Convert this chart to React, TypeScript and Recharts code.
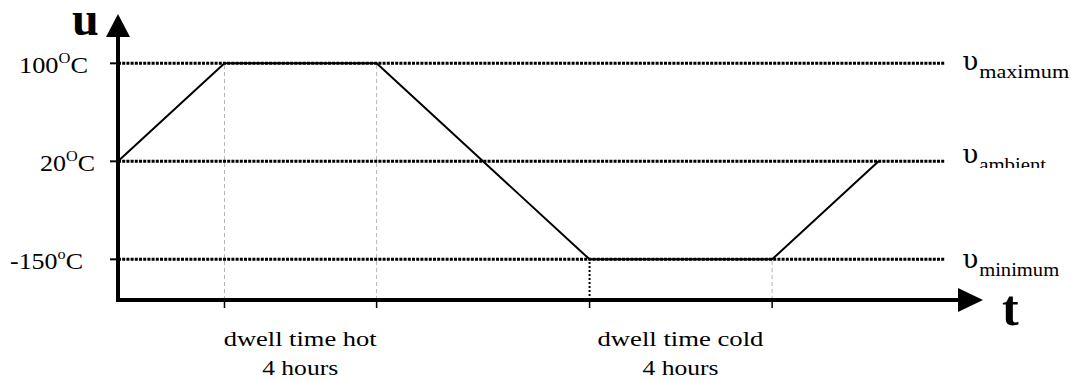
import { LineChart, Line, XAxis, YAxis, ReferenceLine, ReferenceDot } from 'recharts';

// schematic temperature cycle (time axis is not to scale in the original)
const timeHours = [0, 2.8, 6.8, 12.4, 17.2, 20.0];
const temperatures = [20, 100, 100, -150, -150, 20];

// the temperature axis only has three evenly spaced levels
const tempLevels = [-150, 20, 100];
const levelUnits = ['o', 'O', 'O'];
const levelNames = ['minimum', 'ambient', 'maximum'];

// corners of the two dwell phases
const dwellTicks = [2.8, 6.8, 12.4, 17.2];
const dwellLabels = ['dwell time hot', 'dwell time cold'];
const dwellDuration = ['4 hours', '4 hours'];
const dwellCenters = [4.79, 14.79];

const X_MAX = 22.14;
const REF_END = 21.75;
const Y_MIN = -0.415;
const Y_MAX = 2.279;

const FONT = '"Liberation Serif", "Times New Roman", serif';

const data = timeHours.map((t, i) => ({
  t,
  level: tempLevels.indexOf(temperatures[i]),
}));

const EmptyTick = () => <g />;

const LeftTick = (props: any) => {
  const { x, y, payload } = props;
  const i = payload.value as number;
  const endShift = [-25, -13, -20];
  const widths = [73, 55, 69];
  return (
    <text
      x={x + endShift[i] - widths[i]}
      y={y + 10}
      fontFamily={FONT}
      fontSize={24}
      fill="#000"
      textLength={widths[i]}
      lengthAdjust="spacingAndGlyphs"
    >
      {String(tempLevels[i])}
      <tspan fontSize={15} dy={-10}>
        {levelUnits[i]}
      </tspan>
      <tspan fontSize={24} dy={10}>
        C
      </tspan>
    </text>
  );
};

const LevelLabel = (props: any) => {
  const { viewBox, idx } = props;
  if (!viewBox) return null;
  const x = viewBox.x + viewBox.width + 17;
  const y = viewBox.y;
  const widths = [80, 67, 90];
  const dy = [8.5, 1.5, 7];
  const clipId = `sub-clip-${idx}`;
  return (
    <g>
      {idx === 1 && (
        <defs>
          <clipPath id={clipId}>
            <rect x={x} y={y - 20} width={120} height={26.6} />
          </clipPath>
        </defs>
      )}
      <text
        x={x}
        y={y + dy[idx]}
        fontFamily='"DejaVu Serif", serif'
        fontSize={26}
        fill="#000"
        textLength={16}
        lengthAdjust="spacingAndGlyphs"
      >
        υ
      </text>
      <text
        x={x + 17}
        y={y + dy[idx] + 8}
        fontFamily={FONT}
        fontSize={18}
        fill="#000"
        textLength={widths[idx]}
        lengthAdjust="spacingAndGlyphs"
        clipPath={idx === 1 ? `url(#${clipId})` : undefined}
      >
        {levelNames[idx]}
      </text>
    </g>
  );
};

const DwellTick = (props: any) => {
  const { x, y, index } = props;
  const w = index === 0 ? 153 : 166;
  return (
    <g fontFamily={FONT} fontSize={20} fill="#000">
      <text x={x - w / 2} y={y + 38} textLength={w} lengthAdjust="spacingAndGlyphs">
        {dwellLabels[index]}
      </text>
      <text x={x - 38} y={y + 67} textLength={76} lengthAdjust="spacingAndGlyphs">
        {dwellDuration[index]}
      </text>
    </g>
  );
};

const UpArrow = (props: any) => {
  const { cx, cy } = props;
  return (
    <g>
      <polygon points={`${cx - 12},${cy + 1} ${cx + 12},${cy + 1} ${cx},${cy - 22}`} fill="#000" />
      <text x={cx - 46} y={cy - 1} fontFamily={FONT} fontWeight="bold" fontSize={48} fill="#000">
        u
      </text>
    </g>
  );
};

const RightArrow = (props: any) => {
  const { cx, cy } = props;
  return (
    <g>
      <polygon points={`${cx - 2},${cy - 12} ${cx - 2},${cy + 12} ${cx + 23},${cy}`} fill="#000" />
      <text x={cx + 42} y={cy + 25} fontFamily={FONT} fontWeight="bold" fontSize={50} fill="#000">
        t
      </text>
    </g>
  );
};

export default function App() {
  return (
    <div style={{ position: 'absolute', left: 0, top: 0, width: 1071, height: 380, background: '#fff' }}>
      <LineChart
        width={1071}
        height={380}
        data={data}
        margin={{ top: 36, right: 111, left: 18, bottom: 20 }}
      >
        <XAxis
          xAxisId="axis0"
          type="number"
          dataKey="t"
          domain={[0, X_MAX]}
          ticks={dwellTicks}
          interval={0}
          height={8}
          tick={EmptyTick}
          tickSize={8}
          tickLine={{ stroke: '#000', strokeWidth: 1.5 }}
          axisLine={{ stroke: '#000', strokeWidth: 4, strokeLinecap: 'square' }}
        />
        <XAxis
          xAxisId="axis1"
          type="number"
          dataKey="t"
          domain={[0, X_MAX]}
          ticks={dwellCenters}
          interval={0}
          height={52}
          tickSize={0}
          tickMargin={0}
          tick={DwellTick}
          tickLine={false}
          axisLine={false}
        />
        <YAxis
          yAxisId="left"
          type="number"
          domain={[Y_MIN, Y_MAX]}
          ticks={[0, 1, 2]}
          interval={0}
          width={100}
          tickSize={8}
          tick={LeftTick}
          tickLine={{ stroke: '#000', strokeWidth: 2 }}
          axisLine={{ stroke: '#000', strokeWidth: 4, strokeLinecap: 'square' }}
        />

        {/* thin dashed guides at the dwell corners */}
        {[2.8, 6.8].map((t) => (
          <ReferenceLine
            key={`hot-${t}`}
            xAxisId="axis0"
            yAxisId="left"
            segment={[
              { x: t, y: Y_MIN },
              { x: t, y: 2 },
            ]}
            stroke="#b5b5b5"
            strokeWidth={1}
            strokeDasharray="4 3"
          />
        ))}
        <ReferenceLine
          xAxisId="axis0"
          yAxisId="left"
          segment={[
            { x: 12.4, y: Y_MIN },
            { x: 12.4, y: 0 },
          ]}
          stroke="#000"
          strokeWidth={2}
          strokeDasharray="2 2"
        />
        <ReferenceLine
          xAxisId="axis0"
          yAxisId="left"
          segment={[
            { x: 17.2, y: Y_MIN },
            { x: 17.2, y: 0 },
          ]}
          stroke="#b5b5b5"
          strokeWidth={1}
          strokeDasharray="4 3"
        />

        {/* dotted temperature levels */}
        {tempLevels.map((_, i) => (
          <ReferenceLine
            key={`lvl-${i}`}
            xAxisId="axis0"
            yAxisId="left"
            segment={[
              { x: 0, y: i },
              { x: REF_END, y: i },
            ]}
            stroke="#000"
            strokeWidth={3}
            strokeDasharray="3 1.2"
            label={<LevelLabel idx={i} />}
          />
        ))}

        <Line
          xAxisId="axis0"
          yAxisId="left"
          type="linear"
          dataKey="level"
          stroke="#000"
          strokeWidth={2}
          dot={false}
          activeDot={false}
          isAnimationActive={false}
        />

        <ReferenceDot xAxisId="axis0" yAxisId="left" x={0} y={Y_MAX} r={0} shape={UpArrow} />
        <ReferenceDot xAxisId="axis0" yAxisId="left" x={X_MAX} y={Y_MIN} r={0} shape={RightArrow} />
      </LineChart>
    </div>
  );
}
